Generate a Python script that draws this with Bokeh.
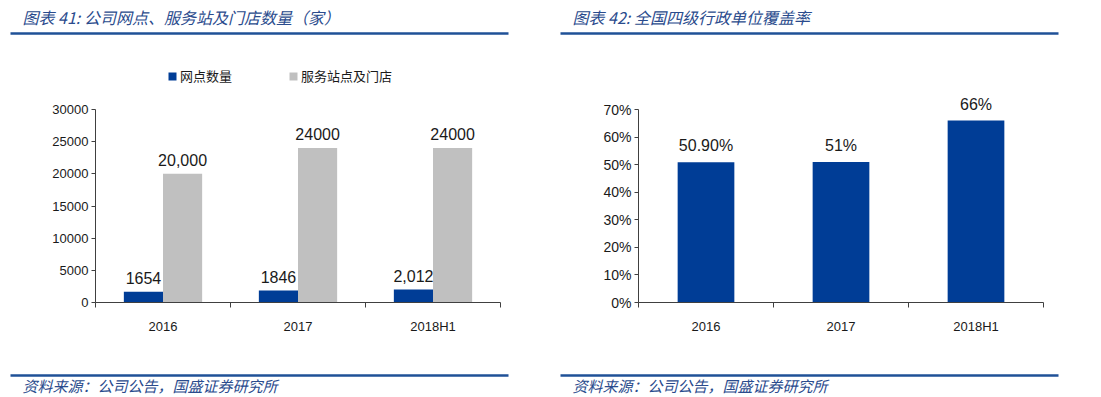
from bokeh.plotting import figure
from bokeh.layouts import column, row
from bokeh.models import (Range1d, FixedTicker, NumeralTickFormatter, Legend,
                          LegendItem)
from bokeh.core.properties import value
from bokeh.embed import file_html
from bokeh.resources import INLINE

# ---------------- data ----------------
categories = ["2016", "2017", "2018H1"]
outlets = [1654, 1846, 2012]
outlet_labels = ["1654", "1846", "2,012"]
stations = [20000, 24000, 24000]
station_labels = ["20,000", "24000", "24000"]
coverage = [0.509, 0.51, 0.66]
coverage_labels = ["50.90%", "51%", "66%"]
y1_ticks = [0, 5000, 10000, 15000, 20000, 25000, 30000]
y2_ticks = [0, 0.1, 0.2, 0.3, 0.4, 0.5, 0.6, 0.7]
legend_names = ["网点数量", "服务站点及门店"]
title_left = "图表 41: 公司网点、服务站及门店数量（家）"
title_right = "图表 42: 全国四级行政单位覆盖率"
source_text = "资料来源：公司公告，国盛证券研究所"

# ---------------- styles ----------------
BLUE = "#003D96"
GRAY = "#C0C0C0"
RULE = "#1F5197"
TITLE_C = "#2A4B8D"
AXIS_C = "#404040"
TXT_C = "#1A1A1A"
LATIN = "Liberation Sans"
CJK = "Noto Sans CJK SC"
W = 1101


def strip(h):
    f = figure(width=W, height=h, x_range=Range1d(0, W), y_range=Range1d(0, h),
               x_axis_type=None, y_axis_type=None, toolbar_location=None,
               output_backend="svg", min_border=0, outline_line_color=None)
    f.grid.visible = False
    return f


# title strip
top = strip(48)
top.text(x=[22, 572], y=[32, 32], text=[title_left, title_right],
         text_font=value(CJK), text_font_style="italic", text_font_size="16px",
         text_color=TITLE_C, text_baseline="middle", text_align="left")
top.segment(x0=[10, 560], y0=[15, 15], x1=[508, 1058], y1=[15, 15],
            line_width=2.5, line_color=RULE)

# footer strip
bot = strip(41)
bot.segment(x0=[10, 560], y0=[22, 22], x1=[508, 1058], y1=[22, 22],
            line_width=2.5, line_color=RULE)
bot.text(x=[22, 572], y=[12, 12], text=[source_text, source_text],
         text_font=value(CJK), text_font_style="italic", text_font_size="15px",
         text_color=TITLE_C, text_baseline="middle", text_align="left")


def style_axes(p, yticks, ysize):
    n = len(categories)
    centers = [i + 0.5 for i in range(n)]
    xa = p.xaxis[0]
    xa.ticker = FixedTicker(ticks=centers, minor_ticks=list(range(n + 1)))
    xa.major_label_overrides = {c: lab for c, lab in zip(centers, categories)}
    xa.major_tick_line_color = None
    xa.minor_tick_line_color = AXIS_C
    xa.minor_tick_in = 0
    xa.minor_tick_out = 5
    xa.major_label_standoff = 10
    xa.axis_line_color = AXIS_C
    xa.major_label_text_font = LATIN
    xa.major_label_text_font_size = "13px"
    xa.major_label_text_color = TXT_C
    ya = p.yaxis[0]
    ya.ticker = FixedTicker(ticks=yticks)
    ya.bounds = (yticks[0], yticks[-1])
    ya.minor_tick_line_color = None
    ya.major_tick_in = 0
    ya.major_tick_out = 4
    ya.major_tick_line_color = AXIS_C
    ya.axis_line_color = AXIS_C
    ya.major_label_standoff = 3
    ya.major_label_text_font = LATIN
    ya.major_label_text_font_size = ysize
    ya.major_label_text_color = TXT_C
    p.grid.visible = False


# ---------------- left chart ----------------
p1 = figure(width=550, height=308, x_range=Range1d(0, 3),
            y_range=Range1d(0, y1_ticks[-1] * 244 / 193),
            toolbar_location=None, output_backend="svg",
            min_border_left=95, min_border_right=50, min_border_top=10,
            min_border_bottom=54, outline_line_color=None)
xb = [i + 0.5 - 0.145 for i in range(len(categories))]
xg = [i + 0.5 + 0.145 for i in range(len(categories))]
r1 = p1.vbar(x=xb, top=outlets, width=0.29, fill_color=BLUE, line_color=None)
r2 = p1.vbar(x=xg, top=stations, width=0.29, fill_color=GRAY, line_color=None)
p1.text(x=xb, y=outlets, text=outlet_labels, text_align="center",
        text_baseline="bottom", y_offset=-8, text_font=value(LATIN),
        text_font_size="16px", text_color=TXT_C)
p1.text(x=xg, y=stations, text=station_labels, text_align="center",
        text_baseline="bottom", y_offset=-8, text_font=value(LATIN),
        text_font_size="16px", text_color=TXT_C)
style_axes(p1, y1_ticks, "13px")
leg = Legend(items=[LegendItem(label=legend_names[0], renderers=[r1]),
                    LegendItem(label=legend_names[1], renderers=[r2])],
             orientation="horizontal", location=(72, 217), padding=0, margin=0,
             spacing=56, glyph_width=10, glyph_height=10, label_standoff=3,
             label_height=14, label_text_font=CJK, label_text_font_size="13px",
             label_text_color=TXT_C, border_line_color=None,
             background_fill_alpha=0)
p1.add_layout(leg, "center")

# ---------------- right chart ----------------
p2 = figure(width=551, height=308, x_range=Range1d(0, 3),
            y_range=Range1d(0, y2_ticks[-1] * 244 / 193),
            toolbar_location=None, output_backend="svg",
            min_border_left=88, min_border_right=58, min_border_top=10,
            min_border_bottom=54, outline_line_color=None)
xc = [i + 0.5 for i in range(len(categories))]
p2.vbar(x=xc, top=coverage, width=0.42, fill_color=BLUE, line_color=None)
p2.text(x=xc, y=coverage, text=coverage_labels, text_align="center",
        text_baseline="bottom", y_offset=-8, text_font=value(LATIN),
        text_font_size="16px", text_color=TXT_C)
style_axes(p2, y2_ticks, "14px")
p2.yaxis[0].formatter = NumeralTickFormatter(format="0%")

layout = column(top, row(p1, p2), bot, spacing=0)
open("out.html", "w").write(file_html(layout, INLINE))
